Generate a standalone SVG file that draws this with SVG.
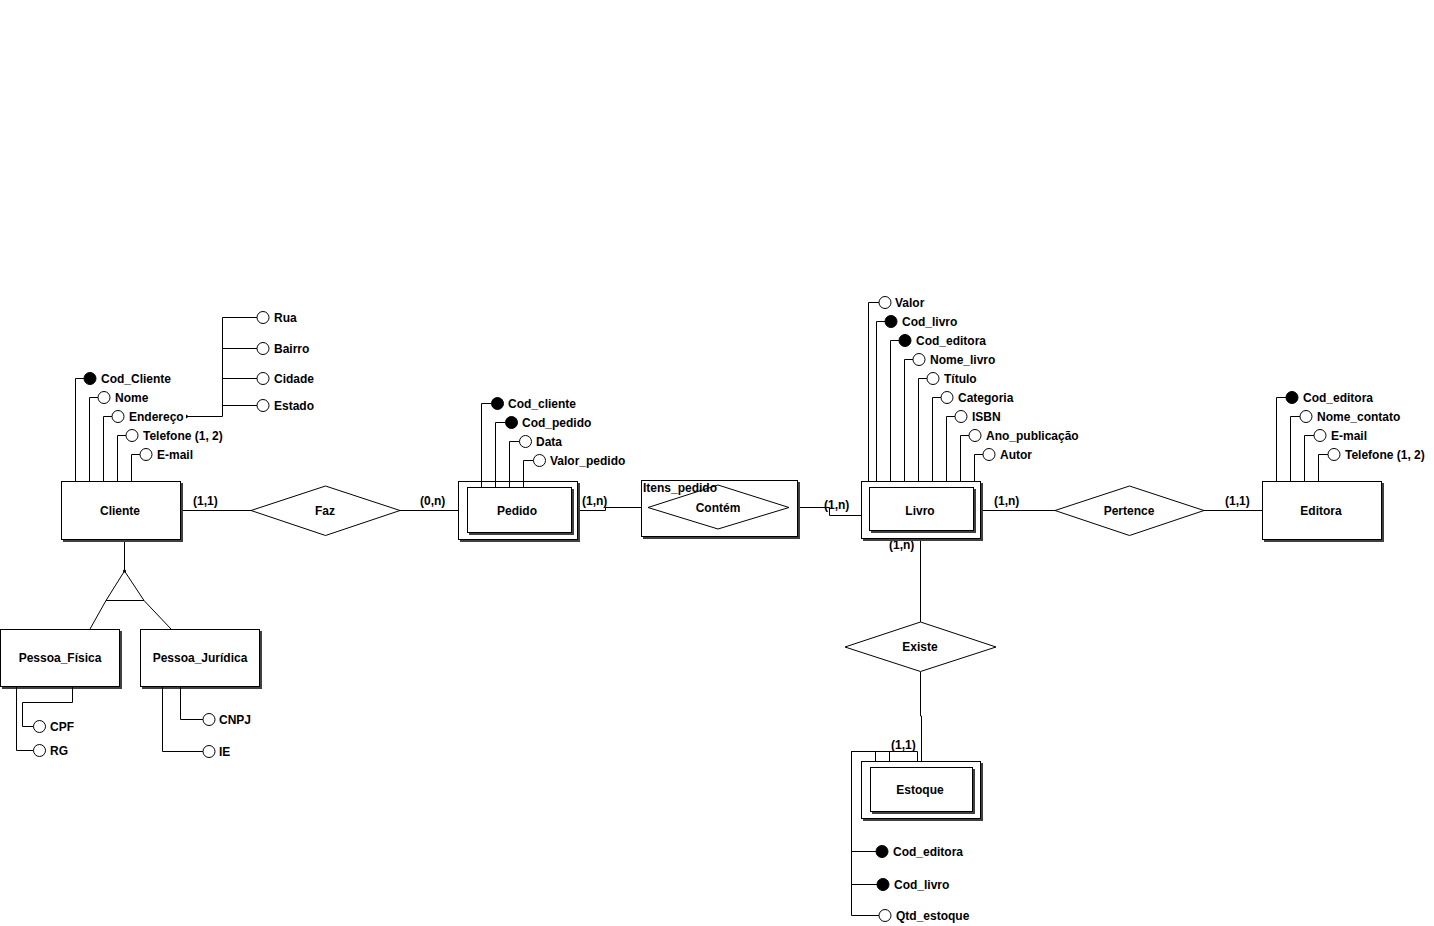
<svg xmlns="http://www.w3.org/2000/svg" width="1434" height="926" viewBox="0 0 1434 926">
<style>
.ln{stroke:#000;stroke-width:1;fill:none}
.bx{fill:#fff;stroke:#000;stroke-width:1}
.sh{fill:#404040}
.ao{fill:#fff;stroke:#000;stroke-width:1}
.af{fill:#000;stroke:#000;stroke-width:1}
text{font-family:"Liberation Sans",Arial,sans-serif;font-weight:bold;font-size:12px;fill:#000}
.c{text-anchor:middle}
</style>
<rect x="0" y="0" width="1434" height="926" fill="#fff"/>

<g id="connectors">
  <path class="ln" d="M180 510.5H251"/>
  <path class="ln" d="M400 510.5H458"/>
  <path class="ln" d="M571.5 510.5H605.5V507.5H648"/>
  <path class="ln" d="M789 507.5H829.5V515.5H862"/>
  <path class="ln" d="M981 510.5H1055"/>
  <path class="ln" d="M1204 510.5H1263"/>
  <path class="ln" d="M920.5 538V622"/>
  <path class="ln" d="M920.5 672V716H921.5V761"/>
  <path class="ln" d="M124.5 539V571"/>
  <path class="ln" d="M106 600.5L90 629"/>
  <path class="ln" d="M144 600.5L171 629"/>
  <text x="193" y="505">(1,1)</text>
  <text x="420" y="505">(0,n)</text>
  <text x="582" y="505">(1,n)</text>
  <text x="824" y="509">(1,n)</text>
  <text x="994" y="505">(1,n)</text>
  <text x="1225" y="505">(1,1)</text>
  <text x="889" y="549">(1,n)</text>
  <text x="891" y="749">(1,1)</text>
</g>

<g id="generalizacao">
  <polygon points="124.5,571 106,600.5 144,600.5" fill="#fff" stroke="#000"/>
  <circle cx="124.5" cy="571" r="1.5" fill="#000"/>
</g>

<g id="cliente">
  <rect class="sh" x="63" y="483" width="120" height="59"/>
  <rect class="bx" x="61.5" y="481.5" width="119" height="58"/>
  <text class="c" x="120" y="515">Cliente</text>
</g>
<g id="cliente-atributos">
  <path class="ln" d="M75.5 481V378.5H84"/><circle class="af" cx="90" cy="378.5" r="6"/><text x="101" y="382.5">Cod_Cliente</text>
  <path class="ln" d="M89.5 481V397.5H98"/><circle class="ao" cx="104" cy="397.5" r="6"/><text x="115" y="401.5">Nome</text>
  <path class="ln" d="M103.5 481V416.5H112"/><circle class="ao" cx="118" cy="416.5" r="6"/><text x="129" y="420.5">Endereço</text>
  <path class="ln" d="M117.5 481V435.5H126"/><circle class="ao" cx="132" cy="435.5" r="6"/><text x="143" y="439.5">Telefone (1, 2)</text>
  <path class="ln" d="M131.5 481V454.5H140"/><circle class="ao" cx="146" cy="454.5" r="6"/><text x="157" y="458.5">E-mail</text>
</g>
<g id="endereco-composto">
  <polygon points="186,414.5 189,416.5 186,418.5" fill="#000"/>
  <path class="ln" d="M187 416.5H222.5V317.5H257"/>
  <path class="ln" d="M222.5 348.5H257M222.5 378.5H257M222.5 405.5H257"/>
  <circle class="ao" cx="263" cy="317.5" r="6"/><text x="274" y="321.5">Rua</text>
  <circle class="ao" cx="263" cy="348.5" r="6"/><text x="274" y="352.5">Bairro</text>
  <circle class="ao" cx="263" cy="378.5" r="6"/><text x="274" y="382.5">Cidade</text>
  <circle class="ao" cx="263" cy="405.5" r="6"/><text x="274" y="409.5">Estado</text>
</g>

<g id="faz">
  <polygon class="bx" points="251,510.5 325.5,486 400,510.5 325.5,535.5"/>
  <text class="c" x="325" y="515">Faz</text>
</g>

<g id="pedido">
  <rect class="sh" x="460" y="483" width="120" height="59"/>
  <rect class="bx" x="458.5" y="481.5" width="119" height="58"/>
  <rect class="sh" x="469" y="489" width="105" height="46"/>
  <rect class="bx" x="467.5" y="487.5" width="104" height="45"/>
  <text class="c" x="517" y="515">Pedido</text>
</g>
<g id="pedido-atributos">
  <path class="ln" d="M481.5 487V403.5H491.5"/><circle class="af" cx="497.5" cy="403.5" r="6"/><text x="508" y="407.5">Cod_cliente</text>
  <path class="ln" d="M495.5 487V422.5H505.5"/><circle class="af" cx="511.5" cy="422.5" r="6"/><text x="522" y="426.5">Cod_pedido</text>
  <path class="ln" d="M509.5 487V441.5H519.5"/><circle class="ao" cx="525.5" cy="441.5" r="6"/><text x="536" y="445.5">Data</text>
  <path class="ln" d="M523.5 487V460.5H533.5"/><circle class="ao" cx="539.5" cy="460.5" r="6"/><text x="550" y="464.5">Valor_pedido</text>
</g>

<g id="itens-pedido">
  <rect class="sh" x="643" y="482" width="157" height="57"/>
  <rect class="bx" x="641.5" y="480.5" width="156" height="56"/>
  <text x="643" y="492">Itens_pedido</text>
  <polygon points="648,507.5 718,485 789,507.5 718,529" fill="none" stroke="#000"/>
  <text class="c" x="718" y="512">Contém</text>
</g>

<g id="livro">
  <rect class="sh" x="863" y="483" width="120" height="58"/>
  <rect class="bx" x="861.5" y="481.5" width="119" height="57"/>
  <rect class="sh" x="871" y="489" width="105" height="44"/>
  <rect class="bx" x="869.5" y="487.5" width="104" height="43"/>
  <text class="c" x="920" y="515">Livro</text>
</g>
<g id="livro-atributos">
  <path class="ln" d="M868.5 481V302.5H879"/><circle class="ao" cx="885" cy="302.5" r="6"/><text x="895" y="306.5">Valor</text>
  <path class="ln" d="M876.5 481V321.5H885"/><circle class="af" cx="891" cy="321.5" r="6"/><text x="902" y="325.5">Cod_livro</text>
  <path class="ln" d="M890.5 481V340.5H899"/><circle class="af" cx="905" cy="340.5" r="6"/><text x="916" y="344.5">Cod_editora</text>
  <path class="ln" d="M904.5 481V359.5H913"/><circle class="ao" cx="919" cy="359.5" r="6"/><text x="930" y="363.5">Nome_livro</text>
  <path class="ln" d="M918.5 481V378.5H927"/><circle class="ao" cx="933" cy="378.5" r="6"/><text x="944" y="382.5">Título</text>
  <path class="ln" d="M932.5 481V397.5H941"/><circle class="ao" cx="947" cy="397.5" r="6"/><text x="958" y="401.5">Categoria</text>
  <path class="ln" d="M946.5 481V416.5H955"/><circle class="ao" cx="961" cy="416.5" r="6"/><text x="972" y="420.5">ISBN</text>
  <path class="ln" d="M960.5 481V435.5H969"/><circle class="ao" cx="975" cy="435.5" r="6"/><text x="986" y="439.5">Ano_publicação</text>
  <path class="ln" d="M974.5 481V454.5H983"/><circle class="ao" cx="989" cy="454.5" r="6"/><text x="1000" y="458.5">Autor</text>
</g>

<g id="pertence">
  <polygon class="bx" points="1055,510.5 1129.5,486 1204,510.5 1129.5,535.5"/>
  <text class="c" x="1129" y="515">Pertence</text>
</g>

<g id="editora">
  <rect class="sh" x="1264" y="483" width="120" height="59"/>
  <rect class="bx" x="1262.5" y="481.5" width="119" height="58"/>
  <text class="c" x="1321" y="515">Editora</text>
</g>
<g id="editora-atributos">
  <path class="ln" d="M1276.5 481V397.5H1286"/><circle class="af" cx="1292" cy="397.5" r="6"/><text x="1303" y="401.5">Cod_editora</text>
  <path class="ln" d="M1290.5 481V416.5H1300"/><circle class="ao" cx="1306" cy="416.5" r="6"/><text x="1317" y="420.5">Nome_contato</text>
  <path class="ln" d="M1304.5 481V435.5H1314"/><circle class="ao" cx="1320" cy="435.5" r="6"/><text x="1331" y="439.5">E-mail</text>
  <path class="ln" d="M1318.5 481V454.5H1328"/><circle class="ao" cx="1334" cy="454.5" r="6"/><text x="1345" y="458.5">Telefone (1, 2)</text>
</g>

<g id="existe">
  <polygon class="bx" points="845,647 920.5,622 996,647 920.5,671.5"/>
  <text class="c" x="920" y="651">Existe</text>
</g>

<g id="estoque">
  <rect class="sh" x="863" y="763" width="120" height="58"/>
  <rect class="bx" x="861.5" y="761.5" width="119" height="57"/>
  <rect class="sh" x="872" y="769" width="103" height="45"/>
  <rect class="bx" x="870.5" y="767.5" width="102" height="44"/>
  <text class="c" x="920" y="794">Estoque</text>
</g>
<g id="estoque-atributos">
  <path class="ln" d="M875.5 761V751.5H851.5V851.5H876"/><circle class="af" cx="882" cy="851.5" r="6"/><text x="893" y="855.5">Cod_editora</text>
  <path class="ln" d="M889.5 761V751.5H851.5V884.5H877"/><circle class="af" cx="883" cy="884.5" r="6"/><text x="894" y="888.5">Cod_livro</text>
  <path class="ln" d="M917.5 761V751.5H851.5V915.5H879"/><circle class="ao" cx="885" cy="915.5" r="6"/><text x="896" y="919.5">Qtd_estoque</text>
</g>

<g id="pessoa-fisica">
  <rect class="sh" x="2" y="631" width="120" height="58"/>
  <rect class="bx" x="0.5" y="629.5" width="119" height="57"/>
  <text class="c" x="60" y="662">Pessoa_Física</text>
</g>
<g id="pessoa-fisica-atributos">
  <path class="ln" d="M72.5 687V702.5H22.5V726.5H33.5"/><circle class="ao" cx="39.5" cy="726.5" r="6"/><text x="50" y="730.5">CPF</text>
  <path class="ln" d="M16.5 687V750.5H33.5"/><circle class="ao" cx="39.5" cy="750.5" r="6"/><text x="50" y="754.5">RG</text>
</g>

<g id="pessoa-juridica">
  <rect class="sh" x="142" y="631" width="120" height="58"/>
  <rect class="bx" x="140.5" y="629.5" width="119" height="57"/>
  <text class="c" x="200" y="662">Pessoa_Jurídica</text>
</g>
<g id="pessoa-juridica-atributos">
  <path class="ln" d="M180.5 687V719.5H203"/><circle class="ao" cx="209" cy="719.5" r="6"/><text x="219" y="723.5">CNPJ</text>
  <path class="ln" d="M162.5 687V751.5H203"/><circle class="ao" cx="209" cy="751.5" r="6"/><text x="219" y="755.5">IE</text>
</g>
</svg>
